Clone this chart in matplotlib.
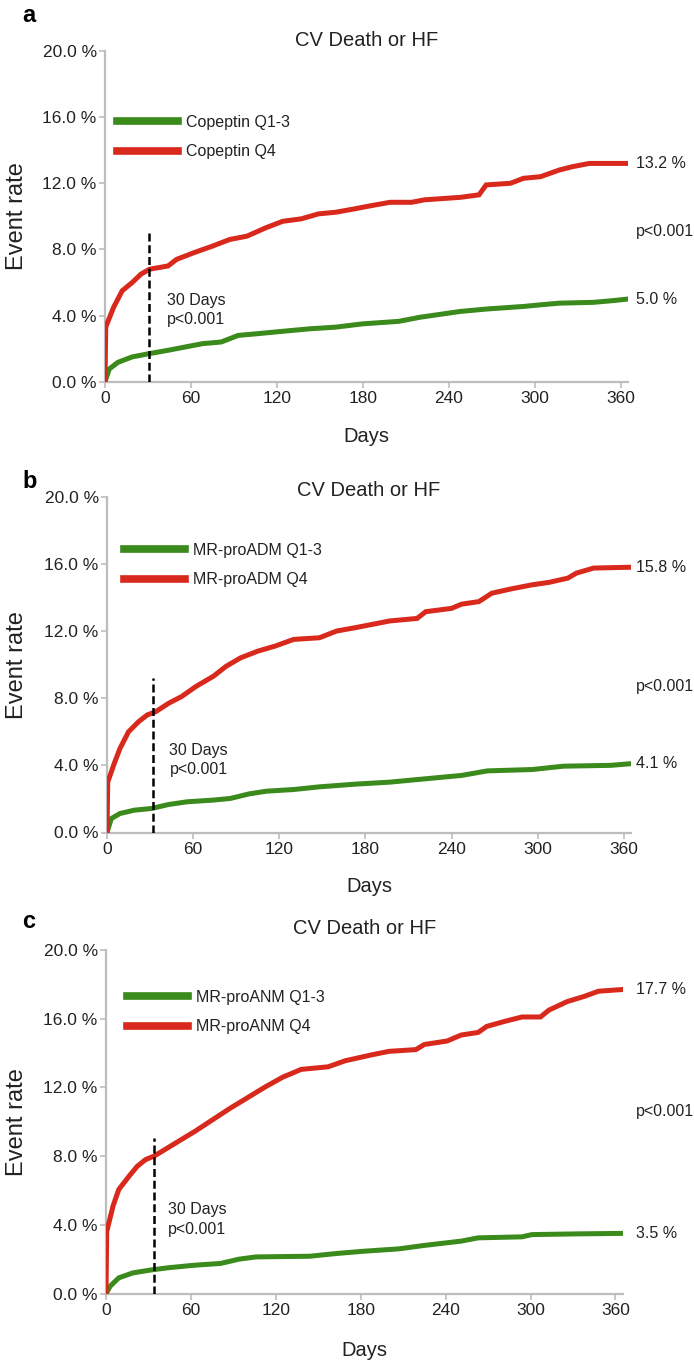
import matplotlib
matplotlib.use("Agg")
import matplotlib.pyplot as plt
import matplotlib.transforms as mtransforms

plt.rcParams["font.family"] = ["Liberation Sans", "DejaVu Sans"]

GREEN = "#3a8a1c"
RED = "#d8291c"
SPINE = "#bdbdbd"
TEXT = "#222222"

# Cumulative event rate (%) over follow-up days, one pair of curves per marker
cop_low_days = [0, 3, 9, 19, 31, 44, 56, 68, 81, 93, 106, 118, 143, 161, 180, 205, 220, 236, 248, 267, 292, 304, 317, 341, 354, 365]
cop_low_rate = [0, 0.77, 1.17, 1.5, 1.7, 1.9, 2.1, 2.3, 2.4, 2.8, 2.9, 3.0, 3.2, 3.3, 3.5, 3.65, 3.9, 4.1, 4.25, 4.4, 4.55, 4.65, 4.75, 4.8, 4.9, 5.0]
cop_high_days = [0, 0.5, 6, 12, 19, 25, 31, 44, 50, 62, 75, 87, 99, 112, 124, 137, 149, 161, 174, 186, 199, 214, 223, 248, 261, 266, 283, 292, 304, 317, 326, 338, 365]
cop_high_rate = [0, 3.3, 4.5, 5.5, 6.0, 6.5, 6.8, 7.0, 7.4, 7.8, 8.2, 8.6, 8.8, 9.3, 9.7, 9.85, 10.15, 10.25, 10.45, 10.65, 10.85, 10.85, 11.0, 11.15, 11.3, 11.9, 12.0, 12.3, 12.4, 12.8, 13.0, 13.2, 13.2]

adm_low_days = [0, 3, 9, 19, 31, 43, 56, 74, 86, 99, 111, 130, 148, 173, 197, 222, 247, 265, 296, 318, 351, 365]
adm_low_rate = [0, 0.83, 1.13, 1.33, 1.43, 1.67, 1.83, 1.93, 2.03, 2.3, 2.46, 2.56, 2.72, 2.88, 3.0, 3.2, 3.4, 3.67, 3.75, 3.95, 4.0, 4.1]
adm_high_days = [0, 0.5, 5, 9, 15, 22, 28, 34, 43, 52, 62, 74, 83, 93, 105, 117, 130, 148, 160, 173, 185, 197, 216, 222, 240, 247, 259, 268, 281, 296, 308, 321, 327, 339, 365]
adm_high_rate = [0, 3.0, 4.1, 5.0, 6.0, 6.6, 7.0, 7.2, 7.7, 8.1, 8.7, 9.3, 9.9, 10.4, 10.8, 11.1, 11.5, 11.6, 12.0, 12.2, 12.4, 12.6, 12.75, 13.15, 13.35, 13.6, 13.75, 14.25, 14.5, 14.75, 14.9, 15.15, 15.45, 15.75, 15.8]

anm_low_days = [0, 3, 9, 19, 31, 44, 63, 81, 94, 106, 144, 163, 182, 207, 225, 251, 263, 294, 301, 332, 365]
anm_low_rate = [0, 0.43, 0.91, 1.2, 1.36, 1.5, 1.65, 1.75, 2.0, 2.13, 2.17, 2.33, 2.46, 2.6, 2.8, 3.05, 3.24, 3.3, 3.43, 3.47, 3.5]
anm_high_days = [0, 0.5, 5, 9, 16, 22, 28, 34, 44, 53, 63, 75, 88, 100, 113, 125, 138, 157, 169, 188, 200, 219, 225, 241, 251, 263, 269, 282, 294, 307, 313, 326, 338, 348, 365]
anm_high_rate = [0, 3.6, 5.1, 6.05, 6.8, 7.4, 7.8, 8.0, 8.5, 8.95, 9.45, 10.1, 10.8, 11.4, 12.05, 12.6, 13.05, 13.2, 13.55, 13.9, 14.1, 14.2, 14.5, 14.7, 15.05, 15.2, 15.55, 15.85, 16.1, 16.1, 16.5, 17.0, 17.3, 17.6, 17.7]

panel_letters = ["a", "b", "c"]
low_labels = ["Copeptin Q1-3", "MR-proADM Q1-3", "MR-proANM Q1-3"]
high_labels = ["Copeptin Q4", "MR-proADM Q4", "MR-proANM Q4"]
low_end_labels = ["5.0 %", "4.1 %", "3.5 %"]
high_end_labels = ["13.2 %", "15.8 %", "17.7 %"]
low_end_values = [5.0, 4.1, 3.5]
high_end_values = [13.2, 15.8, 17.7]
pval_y = [9.1, 8.7, 10.6]
cutoff_days = [31, 31.7, 33.9]
cutoff_top = [9.05, 9.2, 9.05]

x_ticks = [0, 60, 120, 180, 240, 300, 360]
y_ticks = [0, 4, 8, 12, 16, 20]
y_ticklabels = ["0.0 %", "4.0 %", "8.0 %", "12.0 %", "16.0 %", "20.0 %"]

W, H = 694, 1362
fig = plt.figure(figsize=(W / 100, H / 100), dpi=100)

# axes boxes in pixels: left, top, right, bottom
boxes = [(105, 51, 628, 381.7), (107, 496.7, 631, 832.5), (106, 950, 622.5, 1293.5)]
legend_anchor = [(117, 115), (124, 543), (127, 990)]
letter_y = [15, 482, 922]
title_y = [40, 490, 929]
xlabel_y = [437, 887, 1350]

series = [
    (cop_low_days, cop_low_rate, cop_high_days, cop_high_rate),
    (adm_low_days, adm_low_rate, adm_high_days, adm_high_rate),
    (anm_low_days, anm_low_rate, anm_high_days, anm_high_rate),
]

for i, (ld, lr, hd, hr) in enumerate(series):
    l, t, r, b = boxes[i]
    ax = fig.add_axes([l / W, 1 - b / H, (r - l) / W, (b - t) / H])
    ax.plot(ld, lr, color=GREEN, lw=3.6, label=low_labels[i], solid_joinstyle="miter", zorder=3)
    ax.plot(hd, hr, color=RED, lw=3.6, label=high_labels[i], solid_joinstyle="miter", zorder=3)
    ax.plot([cutoff_days[i], cutoff_days[i]], [0, cutoff_top[i]], color="black",
            lw=1.8, ls=(0, (3.2, 1.5)), zorder=4)

    ax.set_xlim(0, 365)
    ax.set_ylim(0, 20)
    ax.set_xticks(x_ticks)
    ax.set_yticks(y_ticks)
    ax.set_yticklabels(y_ticklabels)
    for side in ("top", "right"):
        ax.spines[side].set_visible(False)
    for side in ("left", "bottom"):
        ax.spines[side].set_color(SPINE)
        ax.spines[side].set_linewidth(1.6)
    ax.tick_params(axis="both", colors=SPINE, labelcolor=TEXT, labelsize=12.5,
                   length=4, width=1.2, direction="out")
    ax.tick_params(axis="y", pad=2)
    ax.tick_params(axis="x", pad=3)

    fig.text(17 / W, 1 - ((t + b) / 2) / H, "Event rate", fontsize=17, color=TEXT,
             rotation=90, ha="center", va="center")
    fig.text(((l + r) / 2) / W, 1 - title_y[i] / H, "CV Death or HF", fontsize=14.5,
             color=TEXT, ha="center", va="center")
    fig.text(((l + r) / 2) / W, 1 - xlabel_y[i] / H, "Days", fontsize=14.5,
             color=TEXT, ha="center", va="center")
    fig.text(22 / W, 1 - letter_y[i] / H, panel_letters[i], fontsize=17,
             fontweight="bold", color="black", ha="left", va="center")

    leg = ax.legend(loc="upper left", bbox_to_anchor=(legend_anchor[i][0] / W, 1 - legend_anchor[i][1] / H),
                    bbox_transform=fig.transFigure, frameon=False, fontsize=11.5,
                    handlelength=3.8, handletextpad=0.5, labelspacing=0.9, borderpad=0,
                    borderaxespad=0)
    for line in leg.get_lines():
        line.set_linewidth(5.5)
    for txt in leg.get_texts():
        txt.set_color(TEXT)

    # 30-day landmark annotation
    ax.text(43.5, 4.9, "30 Days", fontsize=11.5, color=TEXT, va="center", ha="left")
    ax.text(43.5, 3.75, "p<0.001", fontsize=11.5, color=TEXT, va="center", ha="left")

    # one-year rates and overall p value on the right margin
    trans = mtransforms.blended_transform_factory(fig.transFigure, ax.transData)
    ax.text(636 / W, high_end_values[i], high_end_labels[i], transform=trans, fontsize=11.5,
            color=TEXT, va="center", ha="left", clip_on=False)
    ax.text(636 / W, low_end_values[i], low_end_labels[i], transform=trans, fontsize=11.5,
            color=TEXT, va="center", ha="left", clip_on=False)
    ax.text(636 / W, pval_y[i], "p<0.001", transform=trans, fontsize=11.5,
            color=TEXT, va="center", ha="left", clip_on=False)

fig.savefig("out.png", dpi=100, facecolor="white")
